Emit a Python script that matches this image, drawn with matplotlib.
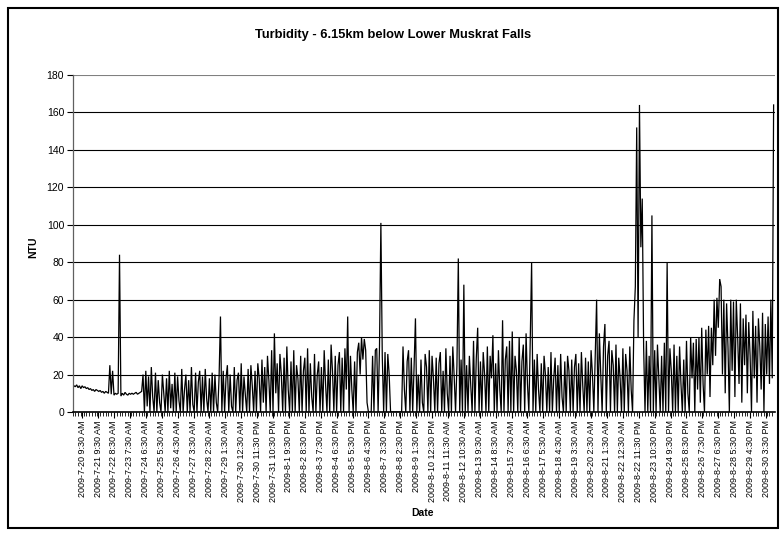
import matplotlib
matplotlib.use("Agg")
import matplotlib.pyplot as plt
import numpy as np
from matplotlib.patches import Rectangle

plt.rcParams['font.family'] = ['Liberation Sans', 'DejaVu Sans']

# ---- data (NTU), one reading every 2 hours, first reading 14 h before first label ----
start_hour = -14
step_hours = 2

seg_a = [15, 14, 13.5, 14.5, 13, 14, 12.5, 14, 13, 13.5,
         12.5, 13, 12, 12.5, 11.5, 12, 11, 12, 11.5, 11,
         11.5, 10.5, 11, 10, 11, 10.5, 10, 25, 9.5, 22, 9,
         10, 9.5, 10, 84, 8.5, 10, 9, 10.5, 9.5, 9,
         10, 9.5, 10, 9.5, 10, 10.5, 9.5, 10, 10.5, 11]
seg_b1 = [20, 0, 22, 3, 19, 0, 24, 8, 0, 21, 0, 17, 5, 0, 20, 10, 0, 18, 0, 22,
          2, 15, 0, 21, 0, 19, 6, 0, 23, 0, 12, 20, 0, 17, 0, 24, 4, 0, 21, 0,
          16, 22, 0, 19, 0, 23, 7, 0, 18, 0, 21, 0, 20, 5, 0, 19]
seg_b2 = [51,
          0, 22, 0, 18, 25, 0, 20, 3, 0, 24, 0, 17, 21, 0, 26, 0, 19, 9, 0, 23,
          0, 25, 14, 0, 22, 0, 26, 18]
seg_c = [0, 28, 5, 24, 0, 30, 17, 0, 33, 0,
         42,
         10, 26, 0, 31, 20, 0, 29, 0, 35, 12, 0, 27, 0, 33,
         0, 25, 18, 0, 30, 0, 22, 29, 0, 34, 0, 26, 8, 0, 31,
         0, 20, 27, 0, 24, 0, 33, 15, 0, 28, 0, 36, 22, 0, 30, 0, 25, 32, 0, 29, 0, 34, 12]
seg_d = [51,
         0, 30, 12, 0, 27, 0, 32, 37, 20, 40, 28, 39, 33,
         5, 0, 0, 0,
         30, 0, 33, 34, 0, 35,
         101,
         30, 0, 32, 0, 31, 20,
         0, 0, 0, 0, 0, 0, 0, 0, 0,
         35, 12, 0, 27, 33, 0, 29, 0, 24,
         50]
seg_e = [0, 20, 0, 28, 5, 0, 31, 24, 0, 33, 0, 30, 18, 0, 29, 0, 26, 32, 0, 22,
         0, 34, 10, 0, 30, 0, 35, 19, 0, 25,
         82,
         0, 28, 0,
         68,
         0, 25, 0, 30, 14, 0, 38, 0, 29, 45, 0,
         27, 0, 32, 20, 0, 35, 0, 30, 18, 41, 0, 26, 0, 33, 12, 0, 49, 0, 28, 35,
         0, 38, 0, 43,
         0, 30, 22, 0, 40, 0, 27, 36, 0, 42, 15, 0, 38,
         80]
seg_f = [0, 28, 0, 31, 12, 0, 26, 0, 30, 20, 0, 24, 0, 32, 0, 18, 29, 0, 25, 0,
         31, 8, 0, 27, 0, 30, 22, 0, 28, 0, 24, 31, 0, 26, 0, 32, 14, 0, 29, 0,
         27, 0, 33, 20, 0, 30,
         60,
         0, 42, 20, 0, 35, 47, 0, 30, 38, 0, 33, 25,
         0, 36, 0, 29, 18, 0, 34, 0, 31, 22, 0, 35, 12, 0]
seg_g = [49, 67, 152, 40, 164, 88, 114, 35, 0,
         38, 0, 30, 0,
         105,
         0, 33, 0, 36, 18, 0, 30, 0, 37, 0,
         80,
         0, 34, 22, 0, 36, 0, 30, 0, 35, 15, 0, 28, 0]
seg_h = [38, 10, 0, 40, 18, 37, 0, 39, 12, 40, 5,
         45, 15, 0, 44, 20, 46, 8, 45,
         25, 60, 30, 61, 45, 71, 67, 20,
         60, 10, 58, 35, 0, 60, 22, 59, 8, 60, 40, 15, 58, 5, 50, 25,
         52, 10, 48, 30, 0, 54, 18, 46, 5, 50, 35, 12, 53, 0, 47, 20, 51, 15, 60, 18,
         164]

tick_labels = [
    "2009-7-20 9:30 AM", "2009-7-21 9:30 AM", "2009-7-22 8:30 AM", "2009-7-23 7:30 AM",
    "2009-7-24 6:30 AM", "2009-7-25 5:30 AM", "2009-7-26 4:30 AM", "2009-7-27 3:30 AM",
    "2009-7-28 2:30 AM", "2009-7-29 1:30 AM", "2009-7-30 12:30 AM", "2009-7-30 11:30 PM",
    "2009-7-31 10:30 PM", "2009-8-1 9:30 PM", "2009-8-2 8:30 PM", "2009-8-3 7:30 PM",
    "2009-8-4 6:30 PM", "2009-8-5 5:30 PM", "2009-8-6 4:30 PM", "2009-8-7 3:30 PM",
    "2009-8-8 2:30 PM", "2009-8-9 1:30 PM", "2009-8-10 12:30 PM", "2009-8-11 11:30 AM",
    "2009-8-12 10:30 AM", "2009-8-13 9:30 AM", "2009-8-14 8:30 AM", "2009-8-15 7:30 AM",
    "2009-8-16 6:30 AM", "2009-8-17 5:30 AM", "2009-8-18 4:30 AM", "2009-8-19 3:30 AM",
    "2009-8-20 2:30 AM", "2009-8-21 1:30 AM", "2009-8-22 12:30 AM", "2009-8-22 11:30 PM",
    "2009-8-23 10:30 PM", "2009-8-24 9:30 PM", "2009-8-25 8:30 PM", "2009-8-26 7:30 PM",
    "2009-8-27 6:30 PM", "2009-8-28 5:30 PM", "2009-8-29 4:30 PM", "2009-8-30 3:30 PM",
]
label_every_hours = 23

values = seg_a + seg_b1 + seg_b2 + seg_c + seg_d + seg_e + seg_f + seg_g + seg_h
hours = start_hour + step_hours * np.arange(len(values))
tick_pos = label_every_hours * np.arange(len(tick_labels))

W, H = 780, 536
fig = plt.figure(figsize=(W / 100, H / 100), dpi=100)
L, R, T, B = 72.5, 775, 75, 412
ax = fig.add_axes([L / W, 1 - B / H, (R - L) / W, (B - T) / H])

ax.plot(hours, values, color='black', lw=0.9, solid_joinstyle='miter')

ax.set_ylim(0, 180)
ax.set_yticks(range(0, 181, 20))
ax.set_xlim(start_hour, 1002)
ax.yaxis.grid(True, color='black', lw=0.8)
ax.set_axisbelow(True)
gl = ax.get_ygridlines()
gl[-1].set_color('#808080')

ax.set_xticks(tick_pos)
ax.set_xticklabels(tick_labels, rotation=90, fontsize=6.5)
ax.set_xticks(np.arange(start_hour, 1002, 4), minor=True)
ax.tick_params(axis='x', which='major', length=4, width=0.8, pad=2)
ax.tick_params(axis='x', which='minor', length=3, width=0.6)
ax.tick_params(axis='y', length=4, width=0.8, labelsize=7.5, pad=2)

for s in ['top', 'right']:
    ax.spines[s].set_visible(False)
ax.spines['left'].set_color('#606060')
ax.spines['left'].set_linewidth(0.9)
ax.spines['bottom'].set_linewidth(1.2)

fig.text(393 / W, 1 - 35 / H, "Turbidity - 6.15km below Lower Muskrat Falls",
         ha='center', va='center', fontsize=9.3, fontweight='bold')
fig.text(33 / W, 1 - 247 / H, "NTU", rotation=90, ha='center', va='center',
         fontsize=7.5, fontweight='bold')
fig.text(423 / W, 1 - 513 / H, "Date", ha='center', va='center',
         fontsize=7.5, fontweight='bold')

fig.patches.append(Rectangle((8 / W, 1 - 528 / H), (778 - 8) / W, (528 - 8) / H,
                             transform=fig.transFigure, fill=False,
                             ec='black', lw=1.5))

fig.savefig("out.png", dpi=100)
